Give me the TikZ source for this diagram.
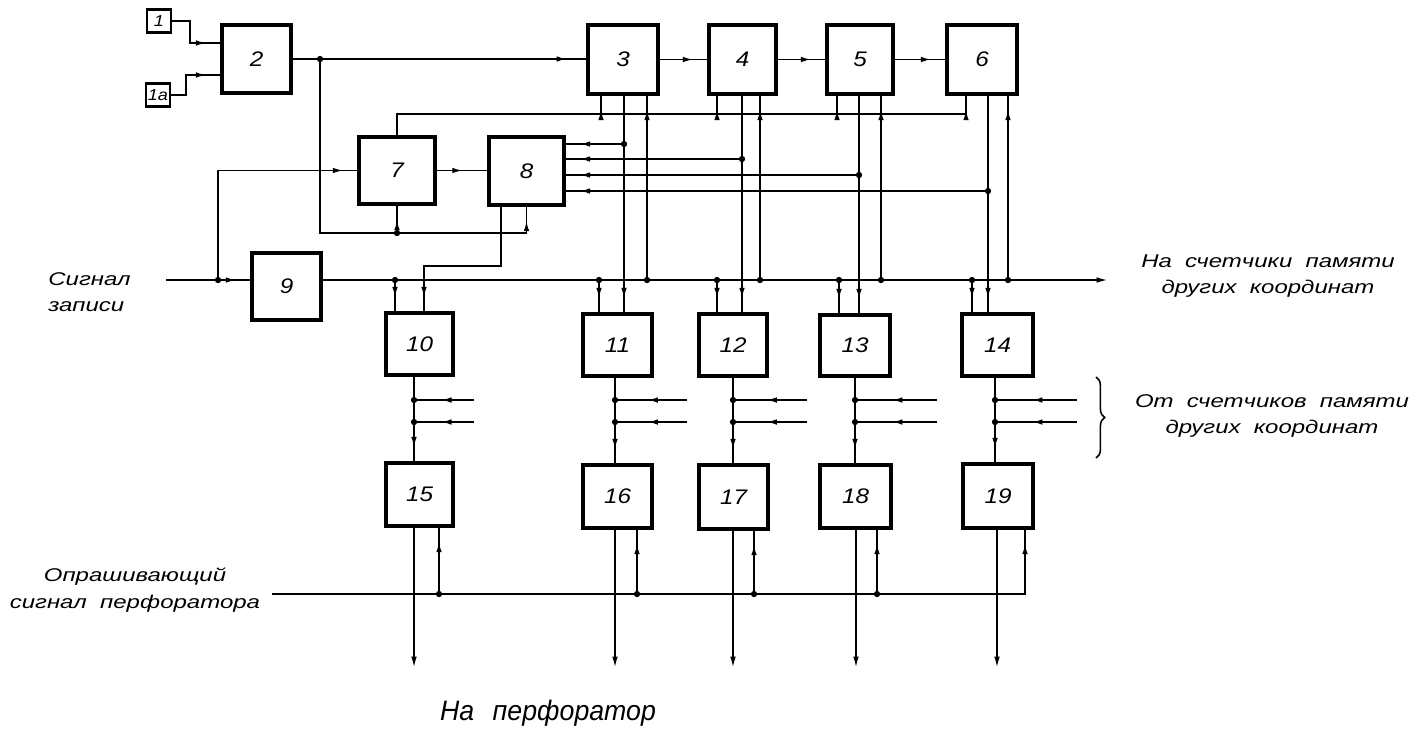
\documentclass[tikz,border=0pt]{standalone}
\usepackage{fontspec}
\setmainfont{Liberation Sans}
\newfontfamily\gost[FakeStretch=1.3,WordSpace=2]{Liberation Sans}
\newfontfamily\gostbig[FakeStretch=0.95,WordSpace=2.5]{Liberation Sans}
\newfontfamily\gostnum[FakeStretch=1.15]{Liberation Sans}
\usetikzlibrary{arrows.meta,decorations.markings,decorations.pathreplacing}
\tikzset{
  blk/.style={draw, line width=1.8pt, minimum width=1.38cm, minimum height=1.26cm, inner sep=0pt,
    font=\gostnum\itshape\fontsize{12}{12}\selectfont},
  sbox/.style={draw, line width=1.2pt, minimum width=0.48cm, minimum height=0.46cm, inner sep=0pt,
    font=\gostnum\itshape\fontsize{9}{9}\selectfont},
  ln/.style={line width=1.05pt},
  arr/.style={postaction={decorate, decoration={markings,
      mark=at position -#1 with {\arrow{Latex[length=6pt,width=3.2pt]}}}}},
  arr/.default=8pt,
  arrm/.style={postaction={decorate, decoration={markings,
      mark=at position 0.55 with {\arrow{Latex[length=6pt,width=3.2pt]}}}}},
  endarr/.style={-{Latex[length=6.5pt,width=3.2pt]}},
  lbl/.style={font=\gost\itshape\fontsize{10.5}{15}\selectfont, align=center, inner sep=0pt},
  jdot/.style={circle, fill, inner sep=0pt, minimum size=3.6pt}
}
\begin{document}
\begin{tikzpicture}[x=0.02cm,y=-0.02cm]
\useasboundingbox (0,0) rectangle (1415,731);

% blocks
\node[sbox] (b1) at (159,21) {1};
\node[sbox] (b1a) at (158,95) {1a};
\node[blk, minimum width=1.38cm, minimum height=1.36cm] (b2) at (256.5,59) {2};
\node[blk, minimum width=1.40cm, minimum height=1.38cm] (b3) at (623,59.5) {3};
\node[blk, minimum width=1.34cm, minimum height=1.38cm] (b4) at (742.5,59.5) {4};
\node[blk, minimum width=1.32cm, minimum height=1.38cm] (b5) at (860,59.5) {5};
\node[blk, minimum width=1.40cm, minimum height=1.38cm] (b6) at (982,59.5) {6};
\node[blk, minimum width=1.52cm, minimum height=1.34cm] (b7) at (397,170.5) {7};
\node[blk, minimum width=1.50cm, minimum height=1.36cm] (b8) at (526.5,171) {8};
\node[blk, minimum width=1.38cm, minimum height=1.34cm] (b9) at (286.5,286.5) {9};
\node[blk, minimum width=1.34cm, minimum height=1.24cm] (b10) at (419.5,344) {10};
\node[blk, minimum width=1.38cm, minimum height=1.24cm] (b11) at (617.5,345) {11};
\node[blk, minimum width=1.36cm, minimum height=1.24cm] (b12) at (733,345) {12};
\node[blk, minimum width=1.40cm, minimum height=1.22cm] (b13) at (855,345.5) {13};
\node[blk, minimum width=1.42cm, minimum height=1.24cm] (b14) at (997.5,345) {14};
\node[blk, minimum width=1.34cm, minimum height=1.26cm] (b15) at (419.5,494.5) {15};
\node[blk, minimum width=1.38cm, minimum height=1.26cm] (b16) at (617.5,496.5) {16};
\node[blk, minimum width=1.38cm, minimum height=1.28cm] (b17) at (733.5,497) {17};
\node[blk, minimum width=1.42cm, minimum height=1.26cm] (b18) at (855.5,496.5) {18};
\node[blk, minimum width=1.40cm, minimum height=1.28cm] (b19) at (998,496) {19};

% inputs of 2
\coordinate (c1) at (190,43);
\coordinate (c1a) at (186,75);
\draw[ln,arr] (b1.east) -| (c1) -- (c1 -| b2.west);
\draw[ln,arr] (b1a.east) -| (c1a) -- (c1a -| b2.west);

% chain 2-3-4-5-6
\draw[ln,arr=11pt] (b2.east) -- (b2.east -| b3.west);
\draw[ln,arr] (b3.east) -- (b3.east -| b4.west);
\draw[ln,arr] (b4.east) -- (b4.east -| b5.west);
\draw[ln,arr] (b5.east) -- (b5.east -| b6.west);

% branch from 2 to 7 and 8
\coordinate (j2) at (320,59);
\coordinate (r2) at (320,233);
\coordinate (r7) at (397,233);
\draw[ln,arr] (j2) -- (r2) -| (b8.south);
\draw[ln,arr] (r7) -- (b7.south);
\node[jdot] (d2) at (j2) {};
\node[jdot] (d7) at (r7) {};

% 7 -> 8
\draw[ln,arr=14pt] (b7.east) -- (b7.east -| b8.west);

% recording signal
\coordinate (sin) at (166,280);
\coordinate (j9) at (218,280);
\draw[ln,arr] (sin) -- (sin -| b9.west);
\draw[ln,arr] (j9) |- (b7.west);
\node[jdot] (d9) at (j9) {};

% bus
\coordinate (busE) at (1108,280);
\draw[ln,endarr] (sin -| b9.east) -- (busE);

% bus taps into 10-14
\foreach \x/\b in {395/10, 599/11, 717/12, 839/13, 972/14}{
  \coordinate (p\b) at (\x,280);
  \draw[ln,arr] (p\b) -- (p\b |- b\b.north);
  \node[jdot] at (p\b) {};
}

% 8 -> 10
\coordinate (q8) at (501,266);
\coordinate (q10) at (424,266);
\draw[ln,arr] (q8 |- b8.south) -- (q8) -- (q10) -- (q10 |- b10.north);

% top rail from 7 to 3-6
\coordinate (r6) at (966,114);
\draw[ln,arr] (b7.north) |- (r6) -- (r6 |- b6.south);
\foreach \x/\b in {601/3, 717/4, 837/5}{
  \coordinate (t\b) at (\x,114);
  \draw[ln,arr] (t\b) -- (t\b |- b\b.south);
}

% down lines 3-6 -> 11-14, with returns into 8
\foreach \x/\y/\a/\b in {624/144/3/11, 742/159/4/12, 859/175/5/13, 988/191/6/14}{
  \coordinate (k\a) at (\x,\y);
  \draw[ln,arr] (k\a |- b\a.south) -- (k\a |- b\b.north);
  \draw[ln,arr] (k\a) -- (k\a -| b8.east);
  \node[jdot] at (k\a) {};
}

% up lines from bus into 3-6
\foreach \x/\a in {647/3, 760/4, 881/5, 1008/6}{
  \coordinate (u\a) at (\x,280);
  \draw[ln,arr] (u\a) -- (u\a |- b\a.south);
  \node[jdot] at (u\a) {};
}

% 10-14 -> 15-19 with inputs from other coordinates
\foreach \x/\e/\a/\b in {414/474/10/15, 615/687/11/16, 733/807/12/17, 855/937/13/18, 995/1077/14/19}{
  \coordinate (o\a) at (\x,400);
  \coordinate (g\a) at (\x,422);
  \coordinate (e\a) at (\e,400);
  \coordinate (f\a) at (\e,422);
  \draw[ln,arr] (o\a |- b\a.south) -- (o\a |- b\b.north);
  \draw[ln,arrm] (e\a) -- (o\a);
  \draw[ln,arrm] (f\a) -- (g\a);
  \node[jdot] at (o\a) {};
  \node[jdot] at (g\a) {};
}

% perforator poll signal
\coordinate (pl) at (272,594);
\coordinate (pr) at (1025,594);
\draw[ln,arr] (pl) -- (pr) -- (pr |- b19.south);
\foreach \x/\b in {439/15, 637/16, 754/17, 877/18}{
  \coordinate (v\b) at (\x,594);
  \draw[ln,arr] (v\b) -- (v\b |- b\b.south);
  \node[jdot] at (v\b) {};
}

% outputs to perforator
\foreach \x/\b in {414/15, 615/16, 733/17, 856/18, 997/19}{
  \coordinate (w\b) at (\x,668);
  \draw[ln,endarr] (w\b |- b\b.south) -- (w\b);
}

% brace
\draw[line width=0.9pt, decorate, decoration={brace, amplitude=5pt}] (1096,377) -- (1096,458);

% labels
\node[lbl, align=left, anchor=west] (ls) at (48,292) {Сигнал\\записи};
\node[lbl] (lna) at (1268,276) {На счетчики памяти\\других координат};
\node[lbl] (lot) at (1272,416) {От счетчиков памяти\\других координат};
\node[lbl] (lop) at (135,590) {Опрашивающий\\сигнал перфоратора};
\node[font=\gostbig\itshape\fontsize{16}{16}\selectfont, inner sep=0pt] (lpf) at (548,713) {На перфоратор};
\end{tikzpicture}
\end{document}
